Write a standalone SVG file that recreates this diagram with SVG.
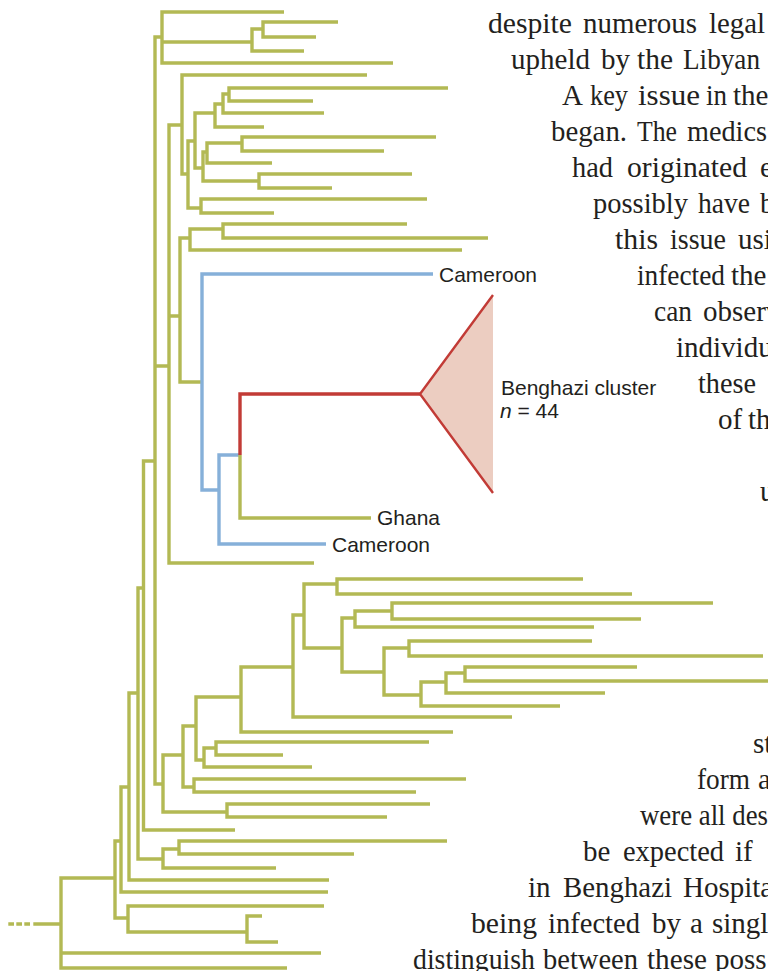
<svg xmlns="http://www.w3.org/2000/svg" width="768" height="971" viewBox="0 0 768 971">
  <style>
    .g { fill: none; stroke: #b3b954; stroke-width: 3.4; stroke-linejoin: miter; }
    .b { fill: none; stroke: #86b0d9; stroke-width: 3.4; stroke-linejoin: miter; }
    .r { fill: none; stroke: #c23b36; stroke-width: 3.4; stroke-linejoin: miter; }
    .lbl { font-family: "Liberation Sans", Arial, sans-serif; font-size: 21px; fill: #231f20; }
    .body text { font-family: "Liberation Serif", "Times New Roman", serif; font-size: 29px; fill: #231f20; }
  </style>
  <rect width="768" height="971" fill="#ffffff"/>

  <!-- Body text running beside the tree, set word by word -->
  <g id="body-text" class="body">
    <text x="488" y="33" textLength="84" lengthAdjust="spacingAndGlyphs">despite</text>
    <text x="583" y="33" textLength="114" lengthAdjust="spacingAndGlyphs">numerous</text>
    <text x="709" y="33" textLength="56" lengthAdjust="spacingAndGlyphs">legal</text>

    <text x="511" y="69" textLength="79" lengthAdjust="spacingAndGlyphs">upheld</text>
    <text x="601" y="69">by</text>
    <text x="637" y="69" textLength="36" lengthAdjust="spacingAndGlyphs">the</text>
    <text x="683" y="69" textLength="77" lengthAdjust="spacingAndGlyphs">Libyan</text>

    <text x="562" y="105">A</text>
    <text x="590" y="105" textLength="38" lengthAdjust="spacingAndGlyphs">key</text>
    <text x="638" y="105" textLength="62" lengthAdjust="spacingAndGlyphs">issue</text>
    <text x="706" y="105" textLength="21" lengthAdjust="spacingAndGlyphs">in</text>
    <text x="733" y="105">the</text>

    <text x="551" y="141" textLength="76" lengthAdjust="spacingAndGlyphs">began.</text>
    <text x="637" y="141" textLength="40" lengthAdjust="spacingAndGlyphs">The</text>
    <text x="687" y="141" textLength="80" lengthAdjust="spacingAndGlyphs">medics</text>

    <text x="572" y="177" textLength="41" lengthAdjust="spacingAndGlyphs">had</text>
    <text x="627" y="177" textLength="120" lengthAdjust="spacingAndGlyphs">originated</text>
    <text x="760" y="177">e</text>

    <text x="593" y="213" textLength="95" lengthAdjust="spacingAndGlyphs">possibly</text>
    <text x="698" y="213" textLength="52" lengthAdjust="spacingAndGlyphs">have</text>
    <text x="760" y="213">b</text>

    <text x="615" y="249" textLength="43" lengthAdjust="spacingAndGlyphs">this</text>
    <text x="670" y="249" textLength="56" lengthAdjust="spacingAndGlyphs">issue</text>
    <text x="738" y="249">usi</text>

    <text x="637" y="285" textLength="88" lengthAdjust="spacingAndGlyphs">infected</text>
    <text x="731" y="285">the</text>

    <text x="654" y="321" textLength="38" lengthAdjust="spacingAndGlyphs">can</text>
    <text x="703" y="321">observ</text>

    <text x="676" y="357">individu</text>

    <text x="698" y="393" textLength="58" lengthAdjust="spacingAndGlyphs">these</text>

    <text x="718" y="429">of</text>
    <text x="748" y="429">th</text>

    <text x="760" y="501">u</text>

    <text x="753" y="753">st</text>

    <text x="697" y="789" textLength="53" lengthAdjust="spacingAndGlyphs">form</text>
    <text x="758" y="789">a</text>

    <text x="640" y="825" textLength="128" lengthAdjust="spacingAndGlyphs">were all des</text>

    <text x="583" y="861">be</text>
    <text x="623" y="861" textLength="101" lengthAdjust="spacingAndGlyphs">expected</text>
    <text x="735" y="861">if</text>

    <text x="528" y="897">in</text>
    <text x="563" y="897" textLength="109" lengthAdjust="spacingAndGlyphs">Benghazi</text>
    <text x="683" y="897">Hospita</text>

    <text x="471" y="933" textLength="66" lengthAdjust="spacingAndGlyphs">being</text>
    <text x="548" y="933" textLength="92" lengthAdjust="spacingAndGlyphs">infected</text>
    <text x="652" y="933">by</text>
    <text x="690" y="933">a</text>
    <text x="712" y="933">singl</text>

    <text x="413" y="969" textLength="122" lengthAdjust="spacingAndGlyphs">distinguish</text>
    <text x="543" y="969" textLength="95" lengthAdjust="spacingAndGlyphs">between</text>
    <text x="647" y="969" textLength="60" lengthAdjust="spacingAndGlyphs">these</text>
    <text x="715" y="969">poss</text>
  </g>

  <!-- Branches -->
  <g id="connectors">
    <!-- upper clade -->
    <path class="g" d="M338 22H263V37H316"/>
    <path class="g" d="M263 29H252V51H304"/>
    <path class="g" d="M284 12H162V63H393M162 42H252"/>
    <path class="g" d="M162 37H155V784H163M155 366H169"/>
    <path class="g" d="M448 88H229V101H313"/>
    <path class="g" d="M229 94H223V113H324"/>
    <path class="g" d="M223 104H215V127H264"/>
    <path class="g" d="M436 137H242V151H384"/>
    <path class="g" d="M242 143H207V163H272"/>
    <path class="g" d="M412 174H259V188H332"/>
    <path class="g" d="M207 152H203V181H259"/>
    <path class="g" d="M215 113H195V168H203"/>
    <path class="g" d="M427 199H201V213H274"/>
    <path class="g" d="M195 141H188V208H201"/>
    <path class="g" d="M367 75H182V174H188"/>
    <path class="g" d="M407 224H223V238H488"/>
    <path class="g" d="M223 229H190V250H462"/>
    <path class="g" d="M190 238H180V382H202"/>
    <path class="g" d="M182 125H169V563H314M169 316H180"/>
    <!-- Cameroon / Ghana lineage -->
    <path class="b" d="M433 274H202V490H219"/>
    <path class="b" d="M240 455H219V544H326"/>
    <path class="r" d="M420 394H240V455"/>
    <path class="g" d="M240 455V518H371"/>
    <!-- lower clade -->
    <path class="g" d="M637 667H465V681H768"/>
    <path class="g" d="M465 673H446V693H605"/>
    <path class="g" d="M446 682H421V706H560"/>
    <path class="g" d="M592 641H409V656H763"/>
    <path class="g" d="M409 648H384V695H421"/>
    <path class="g" d="M713 603H392V619H641"/>
    <path class="g" d="M392 611H355V627H594"/>
    <path class="g" d="M355 618H342V672H384"/>
    <path class="g" d="M583 579H337V594H632"/>
    <path class="g" d="M337 584H304V648H342"/>
    <path class="g" d="M304 615H293V717H512"/>
    <path class="g" d="M293 667H241V732H453"/>
    <path class="g" d="M429 742H216V755H283"/>
    <path class="g" d="M216 748H204V767H312"/>
    <path class="g" d="M241 697H196V760H204"/>
    <path class="g" d="M466 779H194V792H416"/>
    <path class="g" d="M196 726H183V787H194"/>
    <path class="g" d="M430 804H227V817H387"/>
    <path class="g" d="M183 755H163V812H227"/>
    <path class="g" d="M155 461H143.5V830H235"/>
    <path class="g" d="M447 841H179V854H354"/>
    <path class="g" d="M179 849H163V868H276"/>
    <path class="g" d="M143.5 588H138V859H163"/>
    <path class="g" d="M138 693H129V880H329"/>
    <path class="g" d="M129 787H121V892H328"/>
    <path class="g" d="M262 916H247V942H278"/>
    <path class="g" d="M324 906H128V932H247"/>
    <path class="g" d="M121 841H115V918H128"/>
    <path class="g" d="M115 878H61V968H287M61 953H321M33.3 924H61"/>
    <path class="g" d="M8.3 924H30" stroke-dasharray="5.7 2.3"/>
  </g>

  <!-- Collapsed Benghazi clade -->
  <g id="benghazi-cluster">
    <polygon points="420,394 493,295 493,493" fill="#eccdc1"/>
    <polyline points="493,295 420,394 493,493" fill="none" stroke="#c23b36" stroke-width="2.4"/>
    <text class="lbl" x="501" y="395">Benghazi cluster</text>
    <text class="lbl" x="500" y="418"><tspan font-style="italic">n</tspan> = 44</text>
  </g>

  <g id="cameroon-1">
    <text class="lbl" x="439" y="282">Cameroon</text>
  </g>
  <g id="ghana">
    <text class="lbl" x="377" y="525">Ghana</text>
  </g>
  <g id="cameroon-2">
    <text class="lbl" x="332" y="552">Cameroon</text>
  </g>
</svg>
